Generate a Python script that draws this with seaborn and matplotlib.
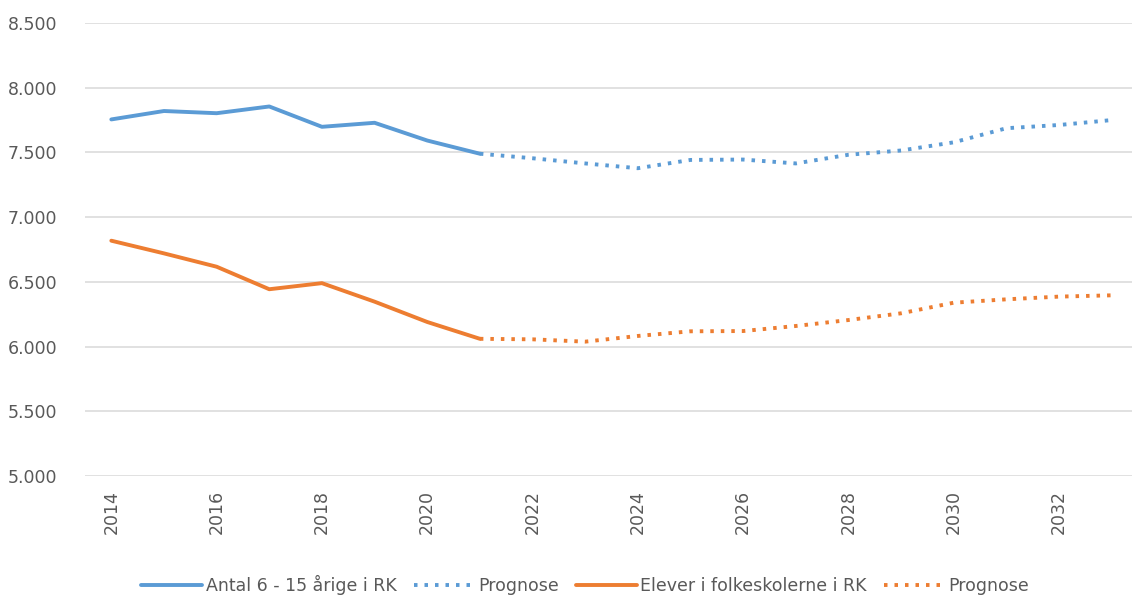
import seaborn as sns
import matplotlib.pyplot as plt
import matplotlib.ticker as mticker
import pandas as pd

# aar og vaerdier aflaest fra figuren
years = list(range(2014, 2034))
antal_6_15 = [7755, 7820, 7803, 7855, 7698, 7729, 7592, 7490,
              7455, 7415, 7378, 7442, 7445, 7415, 7482, 7515, 7578, 7687, 7712, 7750]
elever = [6818, 6720, 6617, 6443, 6490, 6347, 6190, 6060,
          6056, 6038, 6082, 6118, 6120, 6159, 6205, 6257, 6339, 6365, 6386, 6396]
last_actual = 2021

labels = ["Antal 6 - 15 årige i RK", "Prognose", "Elever i folkeskolerne i RK", "Prognose"]
blue = "#5B9BD5"
orange = "#ED7D31"
grey = "#595959"

df = pd.DataFrame({"year": years, "antal": antal_6_15, "elever": elever})
hist = df[df["year"] <= last_actual]
prog = df[df["year"] >= last_actual]

sns.set_style("white")
plt.rcParams["font.family"] = ["DejaVu Sans"]

fig = plt.figure(figsize=(11.32, 5.96), dpi=100)
ax = fig.add_axes([85 / 1132, 1 - 476 / 596, 1053 / 1132, 453 / 596])

lw = 2.8
dots = (0, (0.9, 1.8))
sns.lineplot(data=hist, x="year", y="antal", ax=ax, color=blue, lw=lw, label=labels[0])
sns.lineplot(data=prog, x="year", y="antal", ax=ax, color=blue, lw=lw, linestyle=dots, label=labels[1])
sns.lineplot(data=hist, x="year", y="elever", ax=ax, color=orange, lw=lw, label=labels[2])
sns.lineplot(data=prog, x="year", y="elever", ax=ax, color=orange, lw=lw, linestyle=dots, label=labels[3])

ax.set_xlim(2013.5, 2033.5)
ax.set_ylim(5000, 8500)
ax.yaxis.set_major_locator(mticker.MultipleLocator(500))
ax.yaxis.set_major_formatter(mticker.FuncFormatter(lambda v, p: f"{int(v):,}".replace(",", ".")))
ax.set_xticks(years[::2])
ax.set_xticklabels([str(y) for y in years[::2]], rotation=90, va="top", ha="center")
ax.grid(axis="y", color="#D9D9D9", lw=1.1)
ax.set_axisbelow(True)
for s in ax.spines.values():
    s.set_visible(False)
ax.tick_params(axis="both", length=0, labelsize=12.5, labelcolor=grey)
ax.tick_params(axis="y", pad=20)
ax.tick_params(axis="x", pad=10)
ax.set_xlabel("")
ax.set_ylabel("")

handles, labs = ax.get_legend_handles_labels()
ax.legend_.remove()
fig.legend(handles, labs, loc="center", bbox_to_anchor=(0.517, 0.018), ncol=4, frameon=False,
           fontsize=12.5, labelcolor=grey, handlelength=3.5, handletextpad=0.2, columnspacing=1.0)

fig.savefig("out.png", dpi=100)
